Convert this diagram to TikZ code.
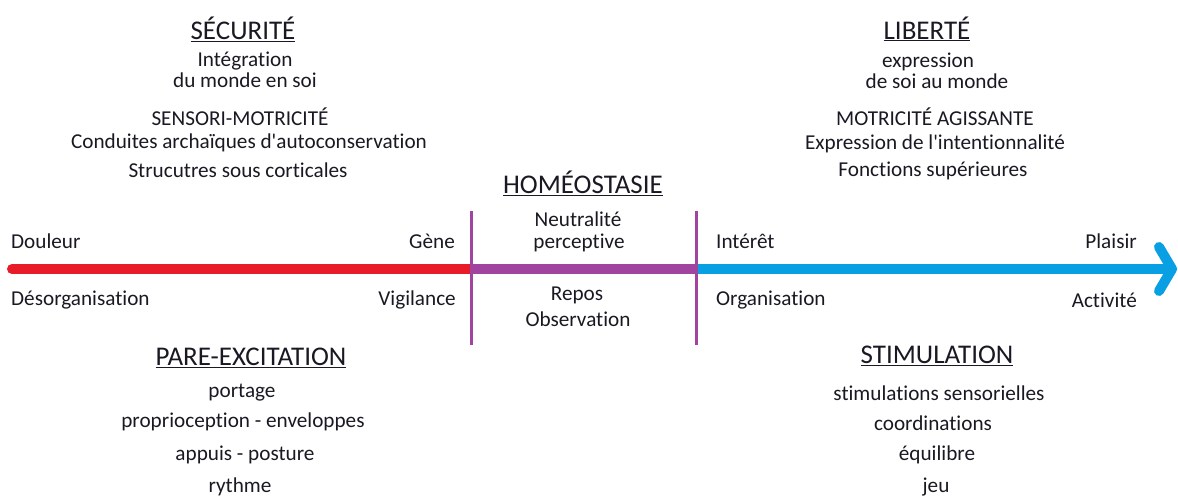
\documentclass[tikz,border=0pt]{standalone}
\usepackage{fontspec}
\setmainfont{Carlito}[Ligatures={NoCommon}]
\definecolor{txt}{RGB}{25,25,35}
\definecolor{axred}{RGB}{232,28,40}
\definecolor{axpurple}{RGB}{160,68,160}
\definecolor{axblue}{RGB}{8,160,226}
\begin{document}
\begin{tikzpicture}[x=1pt,y=-1pt,
  lbl/.style={inner sep=0pt,text=txt,font=\fontsize{21.2}{24}\selectfont},
  head/.style={inner sep=0pt,text=txt,font=\fontsize{27}{30}\selectfont},
  axis/.style={line width=10pt},
  sep/.style={draw=axpurple,line width=3pt}]
\useasboundingbox (0,0) rectangle (1178,502);
% axis
\coordinate (start) at (12,269);
\coordinate (m1) at (471,269);
\coordinate (m2) at (696,269);
\coordinate (tip) at (1172,269);
\coordinate (wa) at (1159,247);
\coordinate (wb) at (1159,291);
\coordinate (v1t) at (471,211);
\coordinate (v1b) at (471,345);
\coordinate (v2t) at (696,211);
\coordinate (v2b) at (696,345);
\draw[axis,draw=axred,line cap=round] (start) -- (m1);
\draw[axis,draw=axpurple] (m1) -- (m2);
\draw[axis,draw=axblue] (m2) -- (tip);
\draw[axis,draw=axblue,line cap=round,line join=round] (wa) -- (tip) -- (wb);
\draw[sep] (v1t) -- (v1b);
\draw[sep] (v2t) -- (v2b);
% top left
\node[head] (secu) at (243,29) {\underline{SÉCURITÉ}};
\node[lbl] (integ) at (245,61) {Intégration};
\node[lbl] (monde1) at (245,80) {du monde en soi};
\node[lbl] (senso) at (240,117) {SENSORI-MOTRICITÉ};
\node[lbl] (condu) at (249,143) {Conduites archaïques d\textquotesingle autoconservation};
\node[lbl] (struc) at (238,170) {Strucutres sous corticales};
% top right
\node[head] (lib) at (927,29) {\underline{LIBERTÉ}};
\node[lbl] (expr) at (928,62) {expression};
\node[lbl] (monde2) at (937,81) {de soi au monde};
\node[lbl] (motri) at (935,117) {MOTRICITÉ AGISSANTE};
\node[lbl] (inten) at (935,144) {Expression de l\textquotesingle intentionnalité};
\node[lbl] (fonct) at (933,171) {Fonctions supérieures};
% middle
\node[head] (homeo) at (583,183) {\underline{HOMÉOSTASIE}};
\node[lbl] (neutr) at (578,219) {Neutralité};
\node[lbl] (perc) at (579,243) {perceptive};
\node[lbl] (repos) at (577,295) {Repos};
\node[lbl] (obs) at (578,319) {Observation};
% axis labels
\node[lbl,anchor=west] (doul) at (11,241) {Douleur};
\node[lbl,anchor=east] (gene) at (455,241) {Gène};
\node[lbl,anchor=west] (desorg) at (11,300) {Désorganisation};
\node[lbl,anchor=east] (vigil) at (456,300) {Vigilance};
\node[lbl,anchor=west] (inter) at (716,241) {Intérêt};
\node[lbl,anchor=east] (plais) at (1137,241) {Plaisir};
\node[lbl,anchor=west] (organ) at (716,300) {Organisation};
\node[lbl,anchor=east] (activ) at (1137,300) {Activité};
% bottom left
\node[head] (pare) at (251,358) {\underline{PARE-EXCITATION}};
\node[lbl] (port) at (242,393) {portage};
\node[lbl] (propr) at (243,422) {proprioception - enveloppes};
\node[lbl] (appui) at (245,455) {appuis - posture};
\node[lbl] (ryth) at (240,487) {rythme};
% bottom right
\node[head] (stim) at (937,356) {\underline{STIMULATION}};
\node[lbl] (stims) at (939,393) {stimulations sensorielles};
\node[lbl] (coord) at (933,423) {coordinations};
\node[lbl] (equil) at (937,455) {équilibre};
\node[lbl] (jeu) at (936,487) {jeu};
\end{tikzpicture}
\end{document}
